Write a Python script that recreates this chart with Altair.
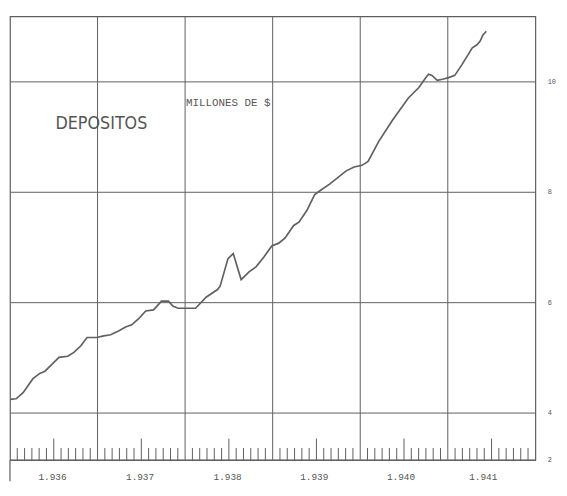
import altair as alt
import pandas as pd

# Deposits series (millions of $): decimal year, value
years_t = [1936.00, 1936.07, 1936.15, 1936.26, 1936.34, 1936.40, 1936.49, 1936.56, 1936.66, 1936.73,
           1936.81, 1936.88, 1936.99, 1937.07, 1937.15, 1937.24, 1937.32, 1937.39, 1937.47, 1937.55,
           1937.64, 1937.73, 1937.81, 1937.86, 1937.92, 1938.12, 1938.24, 1938.37, 1938.40, 1938.49,
           1938.55, 1938.64, 1938.73, 1938.81, 1938.90, 1938.99, 1939.07, 1939.14, 1939.24, 1939.30,
           1939.39, 1939.48, 1939.54, 1939.65, 1939.84, 1939.93, 1940.02, 1940.09, 1940.21, 1940.37,
           1940.55, 1940.67, 1940.75, 1940.78, 1940.82, 1940.88, 1940.94, 1941.01, 1941.08, 1941.16,
           1941.28, 1941.33, 1941.37, 1941.40, 1941.44]
deposits = [4.24, 4.25, 4.36, 4.61, 4.71, 4.75, 4.89, 5.00, 5.02, 5.09,
            5.21, 5.36, 5.36, 5.39, 5.41, 5.48, 5.55, 5.59, 5.70, 5.84,
            5.86, 6.02, 6.02, 5.93, 5.89, 5.89, 6.09, 6.23, 6.29, 6.79,
            6.88, 6.41, 6.55, 6.64, 6.82, 7.02, 7.07, 7.16, 7.39, 7.45,
            7.66, 7.95, 8.02, 8.14, 8.38, 8.45, 8.48, 8.55, 8.91, 9.30,
            9.70, 9.89, 10.07, 10.13, 10.11, 10.02, 10.04, 10.07, 10.11, 10.30,
            10.61, 10.66, 10.73, 10.84, 10.91]

year_bounds = [1937, 1938, 1939, 1940, 1941]
year_label_pos = [1936.48, 1937.48, 1938.48, 1939.47, 1940.46, 1941.4]
y_ticks = [2, 4, 6, 8, 10]

title_text = ["DEPOSITOS"]
title_pos_t = [1936.52]
title_pos_v = [9.23]
unit_text = ["MILLONES DE $"]
unit_pos_t = [1938.01]
unit_pos_v = [9.61]

GRAY = "#5e5e5e"
MONO = "Liberation Mono, DejaVu Sans Mono, monospace"

x_scale = alt.Scale(domain=[1936, 1942], nice=False, zero=False)
y_scale = alt.Scale(domain=[2, 4, 11.18], range=[450, 402, 0], nice=False, zero=False)

x_axis = alt.Axis(values=year_label_pos, grid=False, ticks=False, domain=False,
                  labelExpr="'1.' + substring(toString(round(datum.value - 0.45)), 1)",
                  labelFont=MONO, labelFontSize=9.5, labelColor="#555",
                  labelPadding=12, title=None)
y_axis = alt.Axis(values=y_ticks, orient="right", grid=True, gridColor=GRAY, gridWidth=1,
                  ticks=False, domain=False, labelFont=MONO, labelFontSize=7,
                  labelColor="#555", labelPadding=12, title=None)

def X(field="t"):
    return alt.X(f"{field}:Q", scale=x_scale, axis=x_axis)

def Y(field="v"):
    return alt.Y(f"{field}:Q", scale=y_scale, axis=y_axis)

line_df = pd.DataFrame({"t": years_t, "v": deposits})
line = alt.Chart(line_df).mark_line(color="#606060", strokeWidth=1.7).encode(x=X(), y=Y())

vgrid_df = pd.DataFrame({"t": year_bounds})
vgrid = alt.Chart(vgrid_df).mark_rule(color=GRAY, strokeWidth=1).encode(x=X())

tick_rows = []
for yr in range(1936, 1942):
    for m in range(1, 12):
        tick_rows.append({"t": yr + m / 12.0, "v": 1.95, "v2": 2.9 if m == 6 else 2.5})
ticks_df = pd.DataFrame(tick_rows)
ticks = alt.Chart(ticks_df).mark_rule(color=GRAY, strokeWidth=1).encode(
    x=X(), y=Y(), y2="v2:Q")

edge_df = pd.DataFrame({"t": [1936], "v": [2], "v2": [1.1]})
edge = alt.Chart(edge_df).mark_rule(color=GRAY, strokeWidth=1.2).encode(
    x=X(), y=Y(), y2="v2:Q")

title_df = pd.DataFrame({"t": title_pos_t, "v": title_pos_v, "label": title_text})
title = alt.Chart(title_df).mark_text(
    align="left", baseline="middle", fontSize=18, color="#555",
    font="Liberation Sans Narrow, DejaVu Sans Condensed, Roboto, sans-serif"
).encode(x=X(), y=Y(), text="label:N")

unit_df = pd.DataFrame({"t": unit_pos_t, "v": unit_pos_v, "label": unit_text})
unit = alt.Chart(unit_df).mark_text(
    align="left", baseline="middle", fontSize=11, color="#555", font=MONO
).encode(x=X(), y=Y(), text="label:N")

chart = alt.layer(vgrid, ticks, edge, line, title, unit).properties(
    width=533, height=450,
    padding={"left": 2, "top": 5, "right": 24, "bottom": 20},
    autosize="none",
    background="white",
).configure_view(stroke=GRAY, strokeWidth=1.2)

chart.save("out.html", embed_options={"renderer": "svg", "actions": False})
